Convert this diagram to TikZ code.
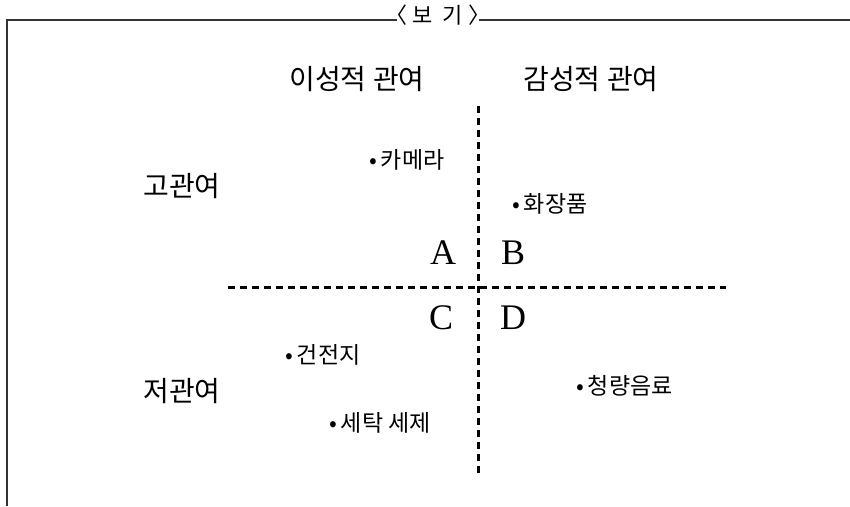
\documentclass[tikz,border=0pt]{standalone}
\usepackage{fontspec}
\setmainfont{Liberation Serif}
\newfontfamily\krfont{Noto Sans CJK KR}
\usetikzlibrary{positioning}

\begin{document}
\begin{tikzpicture}[
    x=1pt, y=-1pt,
    frame/.style={draw=black!80, line width=2pt},
    axis/.style={draw=black, line width=3pt, dash pattern=on 7pt off 5pt},
    head/.style={inner sep=0pt, font=\krfont\fontsize{28}{32}\selectfont},
    item/.style={anchor=west, inner sep=0pt, font=\krfont\fontsize{23}{26}\selectfont},
    zone/.style={inner sep=0pt, font=\fontsize{36}{40}\selectfont},
]
\useasboundingbox (0,0) rectangle (850,506);

% frame with the title box
\node[inner sep=0pt, font=\krfont\fontsize{22}{26}\selectfont] (title) at (438,15)
    {\kern-0.5em〈\ 보\ \ 기\ 〉\kern-0.5em};
\coordinate (corner) at (7,20);
\coordinate (foot) at (7,506);
\coordinate (rightend) at (850,20);
\draw[frame] (foot) -- (corner) -- (title.west |- corner);
\draw[frame] (title.east |- corner) -- (rightend);

% column and row heads
\node[head] (ration) at (357,79) {이성적 관여};
\node[head] (emotion) at (591,79) {감성적 관여};
\node[head] (high) at (182,186) {고관여};
\node[head] (low) at (182,391) {저관여};

% axes
\coordinate (vtop) at (478,106);
\coordinate (vbot) at (478,474);
\coordinate (hleft) at (228,287);
\coordinate (hright) at (726,287);
\draw[axis] (vtop) -- (vbot);
\draw[axis] (hleft) -- (hright);

% quadrant letters
\node[zone] (qa) at (443,253) {A};
\node[zone] (qb) at (513,253) {B};
\node[zone] (qc) at (441,318) {C};
\node[zone] (qd) at (513,318) {D};

% products
\node[item] (camera) at (369,160) {•\,카메라};
\node[item] (cosmetic) at (512,204) {•\,화장품};
\node[item] (battery) at (285,355) {•\,건전지};
\node[item] (detergent) at (329,423) {•\,세탁 세제};
\node[item] (soda) at (576,386) {•\,청량음료};

\end{tikzpicture}
\end{document}
